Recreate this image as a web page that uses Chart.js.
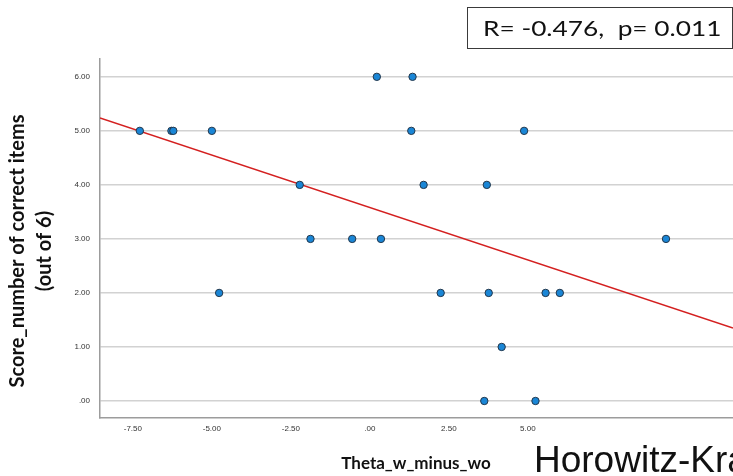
<!DOCTYPE html>
<html>
<head>
<meta charset="utf-8">
<script src="https://cdn.jsdelivr.net/npm/chart.js@4.4.1/dist/chart.umd.min.js"></script>
<style>
  html, body { margin: 0; padding: 0; background: #fff; overflow: hidden; }
  #wrap { position: relative; width: 733px; height: 476px; overflow: hidden; }
  #c { position: absolute; left: 0; top: 0; }
  #stat { position: absolute; left: 467px; top: 7px; width: 264px; height: 40px;
          border: 1px solid #3a3a3a; box-sizing: content-box; }
  #stat span { position: absolute; left: 15px; top: 0px; font-family: Lato, "Open Sans", sans-serif; font-size: 21px;
          color: #111; line-height: 40px; white-space: pre; transform-origin: 0 50%; transform: scaleX(1.25); }
  #author { position: absolute; left: 534px; top: 440px; font-family: "Liberation Sans", Arial, sans-serif;
            font-size: 37px; line-height: 40px; color: #111; white-space: nowrap; }
</style>
</head>
<body>
<div id="wrap">
  <canvas id="c" width="733" height="476"></canvas>
  <div id="stat"><span>R= -0.476,  p= 0.011</span></div>
  <div id="author">Horowitz-Kra</div>
</div>
<script>
// Data
const thetaX = [-7.28, -6.28, -6.22, -5.00, -4.77, -2.22, -1.88, -0.56, 0.22, 0.35, 1.35, 1.31, 1.70, 2.24, 3.70, 3.76, 3.62, 4.17, 4.88, 5.24, 5.56, 6.01, 9.37];
const scoreY = [5, 5, 5, 5, 2, 4, 3, 3, 6, 3, 6, 5, 4, 2, 4, 2, 0, 1, 5, 0, 2, 2, 3];
const fitX = [-8.54, 11.49];
const fitY = [5.24, 1.35];
const xTickValues = [-7.5, -5, -2.5, 0, 2.5, 5];
const yTickValues = [0, 1, 2, 3, 4, 5, 6];
const xTitle = "Theta_w_minus_wo";
const yTitleLines = ["Score_number of correct items", "(out of 6)"];

const points = thetaX.map((x, i) => ({ x: x, y: scoreY[i] }));
const fitLine = fitX.map((x, i) => ({ x: x, y: fitY[i] }));

function fmt(v) {
  let s = Math.abs(v).toFixed(2);
  if (s.startsWith("0")) s = s.slice(1);
  return (v < 0 ? "-" : "") + s;
}

const titlesPlugin = {
  id: 'titles',
  afterDraw(chart) {
    const ctx = chart.ctx;
    ctx.save();
    ctx.fillStyle = '#111';
    ctx.textAlign = 'center';
    ctx.textBaseline = 'alphabetic';
    ctx.font = 'bold 17px Lato, "Open Sans", sans-serif';
    ctx.fillText(xTitle, 416, 469);
    ctx.textBaseline = 'middle';
    ctx.font = 'bold 20px Lato, "Open Sans", sans-serif';
    const cx = [18, 45];
    yTitleLines.forEach((t, i) => {
      ctx.save();
      ctx.translate(cx[i], 251);
      ctx.rotate(-Math.PI / 2);
      ctx.fillText(t, 0, 0);
      ctx.restore();
    });
    ctx.restore();
  }
};

new Chart(document.getElementById('c'), {
  type: 'scatter',
  data: {
    datasets: [
      {
        type: 'line',
        data: fitLine,
        borderColor: '#d42020',
        borderWidth: 1.6,
        pointRadius: 0,
        fill: false,
        order: 2
      },
      {
        data: points,
        backgroundColor: '#1a86d6',
        borderColor: '#22364a',
        borderWidth: 1,
        pointRadius: 3.7,
        order: 1
      }
    ]
  },
  options: {
    responsive: false,
    animation: false,
    devicePixelRatio: 1,
    layout: { autoPadding: false, padding: { top: 59, right: 0, left: 0, bottom: 0 } },
    plugins: { legend: { display: false }, tooltip: { enabled: false } },
    scales: {
      x: {
        type: 'linear',
        min: -8.54,
        max: 11.49,
        afterBuildTicks: s => { s.ticks = xTickValues.map(v => ({ value: v })); },
        afterFit: s => { s.height = 58; },
        grid: { display: false, drawTicks: false },
        border: { display: true, color: '#9c9c9c', width: 1.5 },
        ticks: {
          padding: 6,
          maxRotation: 0,
          color: '#333',
          font: { family: '"Liberation Sans", Arial, sans-serif', size: 8 },
          callback: v => fmt(v)
        }
      },
      y: {
        type: 'linear',
        min: -0.315,
        max: 6.33,
        afterBuildTicks: s => { s.ticks = yTickValues.map(v => ({ value: v })); },
        afterFit: s => { s.width = 100; },
        grid: { color: '#d2d2d2', lineWidth: 1.5, drawTicks: false },
        border: { display: true, color: '#9c9c9c', width: 1.5 },
        ticks: {
          padding: 10,
          color: '#333',
          font: { family: '"Liberation Sans", Arial, sans-serif', size: 8 },
          callback: v => fmt(v)
        }
      }
    }
  },
  plugins: [titlesPlugin]
});
</script>
</body>
</html>
